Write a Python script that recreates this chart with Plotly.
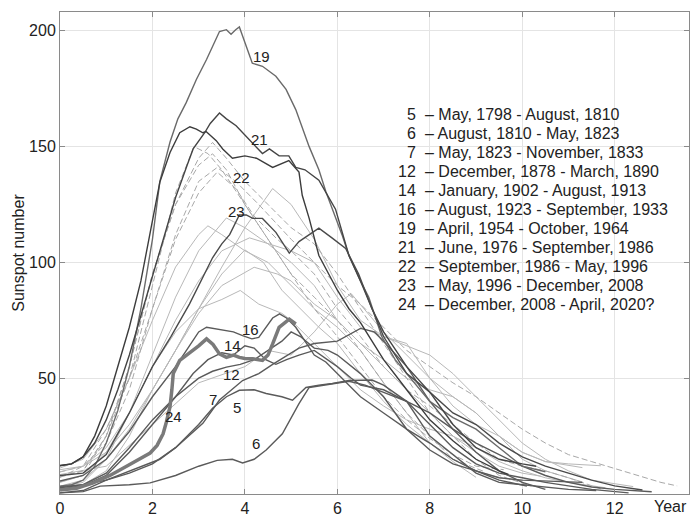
import plotly.graph_objects as go

# ---------------- data (years since cycle minimum, smoothed sunspot number) ----------------
# highlighted cycles
c5_x = [0, .5, 1, 1.5, 2, 2.5, 3.0, 3.3, 3.6, 3.88, 4.2, 4.46, 4.8, 5.03, 5.32, 5.6, 5.89, 6.25, 6.75, 7, 7.5, 8, 8.5, 9, 9.5, 10, 10.5, 11, 11.5, 12.3]
c5_y = [3.2, 4, 6, 9, 13, 20, 30, 37, 42, 44.8, 45, 43.4, 42, 40.5, 46, 47, 47.7, 49, 49.2, 47, 40, 30, 20, 13, 9, 7, 5, 3.5, 2, 0.5]

c6_x = [0, .5, .87, 1.5, 1.95, 2.5, 3.0, 3.4, 3.73, 3.95, 4.2, 4.46, 4.81, 5.17, 5.39, 5.7, 5.89, 6.25, 6.6, 7, 7.5, 8, 8.5, 9, 9.5, 10, 10.5, 11, 11.5, 12, 12.8]
c6_y = [0.5, 1, 3.4, 4, 4.8, 8, 12, 14.5, 15, 13.4, 15, 19, 26, 39, 46, 47, 47.7, 48.7, 47, 44, 40, 35, 28, 22, 17, 12, 8, 5, 3, 2, 1]

c7_x = [0, .5, 1, 1.5, 2, 2.16, 2.5, 3.09, 3.45, 3.95, 4.3, 4.6, 5.17, 5.5, 6.0, 6.5, 6.8, 7.0, 7.5, 8, 8.5, 9, 9.5, 10, 10.5]
c7_y = [0.5, 1.5, 6, 10, 14, 15, 20, 30.5, 40.6, 49, 52, 56, 63, 65, 66, 71.5, 70, 66, 55, 40, 28, 18, 10, 5, 2]

c12_x = [0, .5, 1, 1.5, 2, 2.5, 3, 3.3, 3.6, 3.9, 4.2, 4.5, 4.8, 5.0, 5.2, 5.5, 5.8, 6.0, 6.5, 7, 7.5, 8, 8.5, 9, 9.5, 10, 10.5, 11.3]
c12_y = [2.2, 3.5, 8, 18, 30, 42, 50, 53, 54.8, 56, 58, 62, 66, 70, 68, 63, 62, 60, 52, 42, 28, 19, 13, 10, 7, 6, 5.5, 5]

c14_x = [0, .5, 1, 1.5, 2, 2.5, 2.88, 3.2, 3.5, 3.75, 4.0, 4.2, 4.45, 4.67, 4.9, 5.17, 5.5, 5.8, 6.0, 6.3, 6.5, 7, 7.5, 8, 8.5, 9, 9.5, 10, 10.5, 11, 11.6]
c14_y = [2.7, 4, 9, 20, 32, 42, 52, 58, 61, 60, 64, 63, 58, 56, 58, 60, 62, 58, 55, 50, 47, 45, 40, 25, 17, 9, 5, 4, 3, 2, 1.5]

c16_x = [0, .5, 1, 1.5, 2, 2.5, 2.8, 3.0, 3.17, 3.5, 3.75, 3.95, 4.15, 4.3, 4.45, 4.6, 4.75, 4.9, 5.1, 5.3, 5.5, 5.75, 6, 6.5, 7, 7.5, 8, 8.5, 9, 9.5, 10.1]
c16_y = [5.6, 8, 15, 27, 42, 55, 64, 70, 72, 71, 70, 68.4, 67, 67.6, 72, 76, 77.8, 76, 72, 66, 60, 57, 52, 42, 35, 28, 22, 15, 10, 6, 3.4]

c19_x = [0, .25, .5, .75, 1, 1.25, 1.5, 1.75, 2.0, 2.16, 2.38, 2.55, 2.73, 2.95, 3.17, 3.3, 3.45, 3.6, 3.7, 3.8, 3.88, 4.0, 4.1, 4.16, 4.38, 4.67, 4.89, 5.1, 5.39, 5.6, 5.75, 6.1, 6.25, 6.5, 6.68, 6.96, 7.25, 7.5, 8, 8.5, 9, 9.5, 10, 10.5]
c19_y = [3.4, 4, 6, 12, 22, 36, 55, 80, 110, 135, 152, 162, 169, 179, 187.6, 193, 199.7, 200.5, 198.5, 200.5, 201.7, 195, 189, 186, 184.7, 180.4, 174.7, 166, 150, 140, 130.6, 112, 103, 92, 85, 68, 58, 52, 40, 33, 28, 20, 12, 9.6]

c21_x = [0, .25, .5, .75, 1, 1.25, 1.5, 1.75, 2, 2.25, 2.5, 2.75, 2.88, 3.13, 3.25, 3.45, 3.6, 3.81, 4.0, 4.17, 4.38, 4.53, 4.74, 4.95, 5.1, 5.3, 5.6, 5.96, 6.25, 6.5, 6.75, 7, 7.5, 8, 8.5, 9, 9.5, 10, 10.3]
c21_y = [12.2, 13, 16, 22, 32, 45, 60, 77, 95, 112, 128, 142, 149, 156, 160, 164.5, 162, 159, 155, 151.8, 147, 149, 146, 146, 141, 140, 135.5, 123, 103, 92, 80, 70, 55, 44, 30, 20, 15, 13, 12]

c22_x = [0, .25, .5, .75, 1, 1.25, 1.5, 1.75, 2.0, 2.16, 2.38, 2.59, 2.81, 2.95, 3.09, 3.16, 3.38, 3.52, 3.73, 4.0, 4.25, 4.6, 4.95, 5.17, 5.24, 5.39, 5.6, 6.0, 6.25, 6.5, 6.75, 7, 7.5, 8, 8.5, 9, 9.5, 9.7]
c22_y = [12.3, 13, 16, 25, 38, 55, 72, 92, 118, 134.7, 147.5, 156, 158.6, 157.6, 156, 156.5, 152.6, 149, 145, 146, 145, 141, 144, 139, 129, 119, 103, 88, 80, 74, 66, 58, 45, 32, 23, 15, 10, 8.5]

c23_x = [0, .5, 1, 1.5, 2, 2.4, 2.8, 3.05, 3.3, 3.5, 3.67, 3.88, 4.03, 4.17, 4.38, 4.67, 4.89, 4.96, 5.17, 5.46, 5.6, 5.89, 6.18, 6.46, 6.75, 7, 7.5, 8, 8.5, 9, 9.5, 10, 10.5, 11, 11.5, 12, 12.6]
c23_y = [8, 9, 17, 35, 55, 68, 82, 92, 102, 108, 112, 120.5, 120.5, 119, 119, 113, 106, 104, 109, 113, 114.8, 110.5, 106, 95, 80, 68, 52, 44, 35, 30, 22, 16, 12, 9, 6, 3.5, 1.7]

c24_x = [0, .36, .72, 1.08, 1.44, 1.7, 1.95, 2.1, 2.23, 2.3, 2.38, 2.42, 2.45, 2.59, 2.75, 2.88, 3.0, 3.17, 3.31, 3.45, 3.6, 3.75, 3.88, 4.0, 4.17, 4.38, 4.5, 4.6, 4.74, 4.96, 5.1]
c24_y = [1.7, 2.5, 4.8, 8, 12, 15, 17.7, 21, 26, 31, 37.7, 45, 52, 57.7, 60, 62, 64, 67, 64.6, 60.5, 59, 60, 59, 58.5, 58.4, 57.7, 60, 64.8, 72, 75.5, 73.4]

# background cycles
c1_x = [0, 1, 2, 3, 4, 4.5, 5, 5.5, 6, 6.3, 7, 7.5, 8, 8.5, 9, 9.5, 10, 10.5, 11.3]
c1_y = [8.4, 12, 30, 48, 55, 62, 60, 70, 82, 86.5, 70, 60, 50, 42, 35, 25, 18, 14, 11.4]
c2_x = [0, .5, 1, 1.5, 2, 2.5, 3, 3.2, 3.5, 4, 4.5, 5, 5.5, 6, 6.5, 7, 7.5, 8, 8.5, 9]
c2_y = [11.2, 15, 28, 50, 75, 98, 112, 115.8, 112, 105, 100, 90, 80, 72, 62, 48, 35, 22, 14, 7.2]
c3_x = [0, .5, 1, 1.5, 2, 2.5, 2.9, 3.2, 3.5, 4, 4.5, 5, 5.5, 6, 6.5, 7, 7.5, 8, 8.5, 9.2]
c3_y = [7.2, 12, 28, 50, 90, 130, 150, 147, 140, 125, 110, 95, 85, 75, 62, 48, 35, 25, 15, 9.5]
c4_x = [0, .5, 1, 1.5, 2, 2.5, 3, 3.4, 3.8, 4.3, 5, 5.5, 6, 6.5, 7, 7.5, 8, 8.5, 9, 9.5, 10, 10.5, 11, 11.5, 12, 12.5, 13, 13.35]
c4_y = [9.5, 12, 22, 45, 80, 112, 135, 141, 135, 125, 110, 100, 90, 82, 72, 62, 55, 48, 42, 35, 28, 22, 17, 14, 11, 8, 5, 3.5]
c8_x = [0, .5, 1, 1.5, 2, 2.5, 3, 3.3, 3.6, 4, 4.5, 5, 5.5, 6, 6.5, 7, 7.5, 8, 8.5, 9, 9.6]
c8_y = [7.3, 10, 25, 55, 95, 125, 142, 146.9, 140, 125, 110, 95, 80, 68, 55, 42, 32, 24, 17, 12, 10.5]
c9_x = [0, .5, 1, 1.5, 2, 2.5, 3, 3.5, 4, 4.6, 5, 5.5, 6, 6.5, 7, 7.5, 8, 8.5, 9, 9.5, 10, 10.5, 11, 11.5, 12.4]
c9_y = [10.5, 12, 18, 30, 45, 62, 80, 98, 115, 131.9, 125, 110, 90, 75, 68, 64, 60, 52, 42, 32, 22, 15, 10, 6, 3.2]
c10_x = [0, .5, 1, 1.5, 2, 2.5, 3, 3.5, 4.2, 4.7, 5, 5.5, 6, 6.5, 7, 7.5, 8, 8.5, 9, 9.5, 10, 10.5, 11.3]
c10_y = [3.2, 5, 15, 28, 45, 62, 78, 90, 97.9, 95, 92, 82, 75, 65, 58, 50, 45, 42, 35, 25, 15, 10, 5.2]
c11_x = [0, .5, 1, 1.5, 2, 2.5, 3, 3.4, 3.8, 4.2, 4.7, 5, 5.5, 6, 6.5, 7, 7.5, 8, 8.5, 9, 9.5, 10, 10.5, 11, 11.7]
c11_y = [5.2, 8, 25, 50, 80, 110, 130, 139, 132, 120, 110, 105, 95, 80, 68, 55, 45, 38, 30, 22, 15, 12, 10, 7, 2.2]
c13_x = [0, .5, 1, 1.5, 2, 2.5, 3, 3.5, 3.9, 4.3, 4.8, 5, 5.5, 6, 6.5, 7, 7.5, 8, 8.5, 9, 9.5, 10, 10.5, 11, 11.8]
c13_y = [5, 8, 18, 35, 55, 70, 80, 84, 87.9, 82, 78, 75, 65, 55, 45, 38, 32, 28, 25, 20, 14, 10, 7, 5, 2.7]
c15_x = [0, .5, 1, 1.5, 2, 2.5, 3, 3.5, 4, 4.4, 4.8, 5.2, 5.6, 6, 6.5, 7, 7.5, 8, 8.5, 9, 9.5, 10]
c15_y = [1.5, 4, 10, 25, 45, 62, 80, 95, 105.4, 100, 88, 80, 72, 65, 52, 40, 30, 22, 15, 10, 7, 5.6]
c17_x = [0, .5, 1, 1.5, 2, 2.5, 3, 3.6, 4, 4.5, 5, 5.5, 6, 6.5, 7, 7.5, 8, 8.5, 9, 9.5, 10, 10.4]
c17_y = [3.4, 6, 15, 35, 60, 85, 105, 119.2, 115, 108, 100, 90, 75, 65, 55, 45, 35, 25, 18, 12, 9, 7.7]
c18_x = [0, .5, 1, 1.5, 2, 2.5, 3, 3.3, 3.6, 4, 4.5, 5, 5.5, 6, 6.5, 7, 7.5, 8, 8.5, 9, 9.5, 10.2]
c18_y = [7.7, 10, 25, 55, 95, 125, 145, 151.8, 145, 135, 125, 115, 108, 95, 80, 65, 50, 35, 25, 15, 8, 3.4]
c20_x = [0, .5, 1, 1.5, 2, 2.5, 3, 3.5, 4.1, 4.5, 5, 5.5, 6, 6.5, 7, 7.5, 8, 8.5, 9, 9.5, 10, 10.5, 11, 11.7]
c20_y = [9.6, 12, 20, 35, 55, 75, 92, 105, 110.6, 108, 105, 100, 85, 72, 68, 65, 50, 38, 30, 25, 18, 14, 13, 12.2]

legend_nums = ["5", "6", "7", "12", "14", "16", "19", "21", "22", "23", "24"]
legend_periods = [
    "May, 1798 - August, 1810",
    "August, 1810 - May, 1823",
    "May, 1823 - November, 1833",
    "December, 1878 - March, 1890",
    "January, 1902 - August, 1913",
    "August, 1923 - September, 1933",
    "April, 1954 - October, 1964",
    "June, 1976 - September, 1986",
    "September, 1986 - May, 1996",
    "May, 1996 - December, 2008",
    "December, 2008 - April, 2020?",
]

x_ticks = [0, 2, 4, 6, 8, 10, 12]
y_ticks = [50, 100, 150, 200]

# ---------------- figure ----------------
fig = go.Figure()

background = [
    (c1_x, c1_y, "solid"), (c2_x, c2_y, "solid"), (c3_x, c3_y, "dash"), (c4_x, c4_y, "dash"),
    (c8_x, c8_y, "dash"), (c9_x, c9_y, "solid"), (c10_x, c10_y, "solid"), (c11_x, c11_y, "dash"),
    (c13_x, c13_y, "solid"), (c15_x, c15_y, "solid"), (c17_x, c17_y, "solid"), (c18_x, c18_y, "dash"),
    (c20_x, c20_y, "solid"),
]
for bx, by, dash in background:
    fig.add_trace(go.Scatter(x=bx, y=by, mode="lines",
                             line=dict(color="#b8b8b8" if dash == "solid" else "#a8a8a8",
                                       width=1, dash="6px,3px" if dash == "dash" else "solid"),
                             hoverinfo="skip", showlegend=False))

highlighted = [
    ("5", c5_x, c5_y), ("6", c6_x, c6_y), ("7", c7_x, c7_y), ("12", c12_x, c12_y),
    ("14", c14_x, c14_y), ("16", c16_x, c16_y), ("19", c19_x, c19_y), ("21", c21_x, c21_y),
    ("22", c22_x, c22_y), ("23", c23_x, c23_y),
]
dark_colors = {"19": "#6a6a6a", "21": "#444444", "22": "#3c3c3c", "23": "#4a4a4a"}
for name, hx, hy in highlighted:
    fig.add_trace(go.Scatter(x=hx, y=hy, mode="lines",
                             line=dict(color=dark_colors.get(name, "#5a5a5a"), width=1.4),
                             name=name, showlegend=False))
fig.add_trace(go.Scatter(x=c24_x, y=c24_y, mode="lines",
                         line=dict(color="#7a7a7a", width=3.5), name="24", showlegend=False))

# curve labels (positions in data coordinates)
label_pos = {"19": (4.35, 189), "21": (4.31, 153), "22": (3.92, 136.5), "23": (3.81, 122),
             "16": (4.13, 71), "14": (3.74, 64), "12": (3.70, 51.5), "7": (3.32, 41),
             "5": (3.82, 37.5), "24": (2.45, 33.5), "6": (4.24, 22)}
for txt, (lx, ly) in label_pos.items():
    fig.add_annotation(x=lx, y=ly, text=txt, showarrow=False,
                       font=dict(family="Liberation Sans, Arial", size=15, color="#222"))

# legend text block (pixel layout converted to paper coordinates)
W, H = 690, 517
ML, MR, MT, MB = 60, 0, 12, 19
pw, ph = W - ML - MR, H - MT - MB
def px2paper_x(px):
    return (px - ML) / pw
def py2paper_y(py):
    return (H - MB - py) / ph
for i, (num, per) in enumerate(zip(legend_nums, legend_periods)):
    py = 115 + i * 19.2
    fig.add_annotation(xref="paper", yref="paper", x=px2paper_x(419), y=py2paper_y(py),
                       xanchor="right", yanchor="middle", text=num, showarrow=False,
                       font=dict(family="Liberation Sans, Arial", size=16, color="#222"))
    fig.add_annotation(xref="paper", yref="paper", x=px2paper_x(424), y=py2paper_y(py),
                       xanchor="left", yanchor="middle", text="\u2013 " + per, showarrow=False,
                       font=dict(family="Liberation Sans, Arial", size=16, color="#222"))

fig.add_annotation(xref="x", yref="paper", x=13.2, y=0, yanchor="top", yshift=-2,
                   text="Year", showarrow=False,
                   font=dict(family="Liberation Sans, Arial", size=16, color="#222"))

axis_common = dict(showline=True, linecolor="#8a8a8a", linewidth=1, mirror="allticks",
                   ticks="inside", ticklen=5, tickcolor="#8a8a8a",
                   showgrid=True, gridcolor="#e4e4e4", gridwidth=1, zeroline=False,
                   tickfont=dict(family="Liberation Sans, Arial", size=16, color="#222"))
fig.update_xaxes(range=[0, pw / 46.3], tickvals=x_ticks, ticktext=[str(t) for t in x_ticks], **axis_common)
fig.update_yaxes(range=[0, ph / 2.335], tickvals=y_ticks, ticktext=[str(t) for t in y_ticks],
                 title=dict(text="Sunspot number", standoff=0,
                            font=dict(family="Liberation Sans, Arial", size=16, color="#222")),
                 **axis_common)
fig.update_layout(width=W, height=H, margin=dict(l=ML, r=MR, t=MT, b=MB),
                  plot_bgcolor="white", paper_bgcolor="white", showlegend=False)

fig.write_html("out.html")
